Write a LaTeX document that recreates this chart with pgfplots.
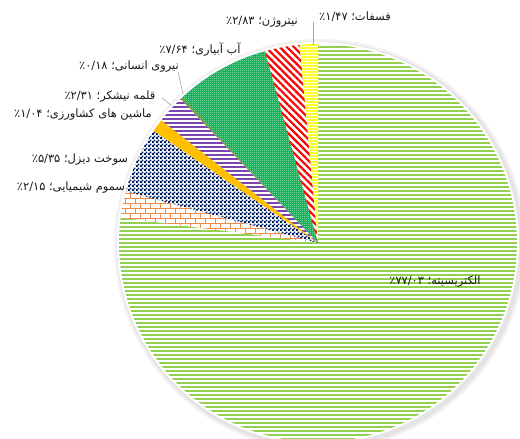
\documentclass[border=0pt]{standalone}
\usepackage{fontspec}
\usepackage{pgfplots}
\pgfplotsset{compat=1.18}
\usepackage{pgfplotstable}
\usetikzlibrary{patterns,patterns.meta}
\TeXXeTstate=1
\newfontfamily\arabicfont[Script=Arabic]{DejaVu Sans}

\definecolor{cE}{HTML}{92D050}
\definecolor{cP}{HTML}{F08A4B}
\definecolor{cD}{HTML}{002060}
\definecolor{cM}{HTML}{FFC000}
\definecolor{cS}{HTML}{7B45B0}
\definecolor{cH}{HTML}{7E9A45}
\definecolor{cI}{HTML}{12B257}
\definecolor{cN}{HTML}{FF0000}
\definecolor{cF}{HTML}{FFFF30}

\pgfdeclarepattern{
  name=mybricks, type=uncolored,
  bottom left={\pgfpoint{-1bp}{-1bp}}, top right={\pgfpoint{11bp}{11bp}},
  tile size={\pgfpoint{10bp}{10bp}},
  code={
    \pgfsetlinewidth{1bp}
    \pgfpathmoveto{\pgfpoint{0bp}{0bp}}\pgfpathlineto{\pgfpoint{10bp}{0bp}}
    \pgfpathmoveto{\pgfpoint{0bp}{5bp}}\pgfpathlineto{\pgfpoint{10bp}{5bp}}
    \pgfpathmoveto{\pgfpoint{0bp}{0bp}}\pgfpathlineto{\pgfpoint{0bp}{5bp}}
    \pgfpathmoveto{\pgfpoint{5bp}{5bp}}\pgfpathlineto{\pgfpoint{5bp}{10bp}}
    \pgfusepath{stroke}
  }
}
\pgfdeclarepattern{
  name=mydots, type=uncolored,
  bottom left={\pgfpointorigin}, top right={\pgfpoint{4bp}{4bp}},
  tile size={\pgfpoint{4bp}{4bp}},
  code={
    \pgfpathrectangle{\pgfpoint{0bp}{0bp}}{\pgfpoint{2.2bp}{2.2bp}}
    \pgfpathrectangle{\pgfpoint{2bp}{2bp}}{\pgfpoint{2.2bp}{2.2bp}}
    \pgfusepath{fill}
  }
}
\pgfdeclarepattern{
  name=wdots, type=uncolored,
  bottom left={\pgfpointorigin}, top right={\pgfpoint{2.4bp}{2.4bp}},
  tile size={\pgfpoint{2.4bp}{2.4bp}},
  code={
    \pgfpathrectangle{\pgfpoint{0bp}{0bp}}{\pgfpoint{0.8bp}{0.8bp}}
    \pgfusepath{fill}
  }
}

% share of each input in energy consumption (%), clockwise from 12 o'clock
\pgfplotstableread{
idx value
0 77.03
1 2.15
2 5.35
3 1.04
4 2.31
5 0.18
6 7.64
7 2.83
8 1.47
}\piedata

\pgfplotstablegetelem{0}{value}\of\piedata\let\vA\pgfplotsretval
\pgfplotstablegetelem{1}{value}\of\piedata\let\vB\pgfplotsretval
\pgfplotstablegetelem{2}{value}\of\piedata\let\vC\pgfplotsretval
\pgfplotstablegetelem{3}{value}\of\piedata\let\vD\pgfplotsretval
\pgfplotstablegetelem{4}{value}\of\piedata\let\vE\pgfplotsretval
\pgfplotstablegetelem{5}{value}\of\piedata\let\vF\pgfplotsretval
\pgfplotstablegetelem{6}{value}\of\piedata\let\vG\pgfplotsretval
\pgfplotstablegetelem{7}{value}\of\piedata\let\vH\pgfplotsretval
\pgfplotstablegetelem{8}{value}\of\piedata\let\vI\pgfplotsretval
\pgfmathsetmacro\aO{90}
\pgfmathsetmacro\aA{\aO-3.6*\vA}
\pgfmathsetmacro\aB{\aA-3.6*\vB}
\pgfmathsetmacro\aC{\aB-3.6*\vC}
\pgfmathsetmacro\aD{\aC-3.6*\vD}
\pgfmathsetmacro\aE{\aD-3.6*\vE}
\pgfmathsetmacro\aF{\aE-3.6*\vF}
\pgfmathsetmacro\aG{\aF-3.6*\vG}
\pgfmathsetmacro\aH{\aG-3.6*\vH}
\pgfmathsetmacro\aI{\aH-3.6*\vI}

\newcommand\slice[3]{%
  \addplot[draw=none, #3, domain=#2:#1, samples=120, variable=\t]
    ({318+199*cos(\t)},{196+199*sin(\t)}) -- (axis cs:318,196) -- cycle;}

\tikzset{lbl/.style={anchor=center, text=black!90, inner sep=0pt,
        font=\arabicfont\fontsize{11.5}{13}\selectfont}}

\begin{document}
\begin{tikzpicture}
\useasboundingbox (0,0) rectangle (520bp,439bp);
\begin{axis}[
  at={(0,0)}, anchor=south west,
  scale only axis, width=520bp, height=439bp,
  xmin=0, xmax=520, ymin=0, ymax=439,
  hide axis, clip=true,
]
% soft shadow
\addplot[draw=none, fill=black, opacity=0.05, domain=0:360, samples=150, variable=\t]
  ({320+206*cos(\t)},{194+206*sin(\t)}) -- cycle;
\addplot[draw=none, fill=black, opacity=0.06, domain=0:360, samples=150, variable=\t]
  ({320+203.5*cos(\t)},{194+203.5*sin(\t)}) -- cycle;
\addplot[draw=none, fill=white, domain=0:360, samples=150, variable=\t]
  ({318+201*cos(\t)},{196+201*sin(\t)}) -- cycle;

\slice{\aO}{\aA}{pattern={Lines[angle=0,distance=4bp,line width=2.3bp]}, pattern color=cE}
\slice{\aA}{\aB}{pattern=mybricks, pattern color=cP}
\slice{\aB}{\aC}{pattern=mydots, pattern color=cD}
\slice{\aC}{\aD}{fill=cM}
\slice{\aD}{\aE}{pattern={Lines[angle=0,distance=4bp,line width=1.3bp]}, pattern color=cS}
\slice{\aE}{\aF}{fill=cH}
\slice{\aF}{\aG}{fill=cI, postaction={pattern=wdots, pattern color=white}}
\slice{\aG}{\aH}{pattern={Lines[angle=-45,distance=5bp,line width=2.2bp]}, pattern color=cN}
\slice{\aH}{\aI}{fill=cF, postaction={pattern={Lines[angle=0,distance=3bp,line width=0.6bp]}, pattern color=white}}

% leader lines
\addplot[gray!70, line width=0.6bp] coordinates {(313,417) (313,394)};
\addplot[gray!70, line width=0.6bp] coordinates {(178,367) (183,345)};
\addplot[gray!70, line width=0.6bp] coordinates {(162,341) (171,334)};

\node[lbl] at (axis cs:355,422) {\beginR فسفات؛ \beginL۱/۴۷\endL٪\endR};
\node[lbl] at (axis cs:262,417) {\beginR نیتروژن؛ \beginL۲/۸۳\endL٪\endR};
\node[lbl] at (axis cs:200,389) {\beginR آب آبیاری؛ \beginL۷/۶۴\endL٪\endR};
\node[lbl] at (axis cs:129,372) {\beginR نیروی انسانی؛ \beginL۰/۱۸\endL٪\endR};
\node[lbl] at (axis cs:110,342) {\beginR قلمه نیشکر؛ \beginL۲/۳۱\endL٪\endR};
\node[lbl] at (axis cs:83,324) {\beginR ماشین های کشاورزی؛ \beginL۱/۰۴\endL٪\endR};
\node[lbl] at (axis cs:80,279) {\beginR سوخت دیزل؛ \beginL۵/۳۵\endL٪\endR};
\node[lbl] at (axis cs:71,251) {\beginR سموم شیمیایی؛ \beginL۲/۱۵\endL٪\endR};
\node[lbl] at (axis cs:435,157) {\beginR الکتریسیته؛ \beginL۷۷/۰۳\endL٪\endR};
\end{axis}
\end{tikzpicture}
\end{document}
